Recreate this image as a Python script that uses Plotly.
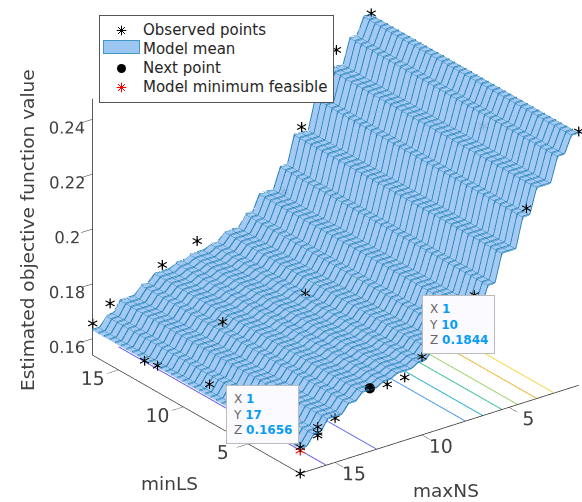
import plotly.graph_objects as go

# surface step heights: Estimated objective per maxNS 1..17
max_ns_levels = list(range(1, 18))
mean_by_max_ns = [.2459, .2398, .2308, .2217, .2109, .2008, .1933, .1875, .1835,
                  .1807, .1792, .1778, .1763, .1738, .1706, .1666, .1630]

# observed points
obs_max_ns = [1, 1, 3, 5, 6, 11, 13, 16, 17, 14, 17, 17, 17, 10, 2, 4, 7, 10, 11, 12, 15, 16, 16, 16, 17, 17]
obs_min_ls = [17, 1, 17, 17, 17, 17, 17, 17, 17, 11, 8, 12, 13, 10, 7, 1, 1, 1, 1, 1, 1, 1, 1, 1, 1, 1]
obs_value = [.2465, .2466, .2372, .2131, .1915, .1836, .1789, .1709, .1656, .1763, .1677, .1637, .1628,
             .1814, .2344, .2246, .1990, .1825, .1770, .1765, .1702, .1690, .1669, .1659, .1636, .1540]

next_point = dict(maxNS=[13], minLS=[1], value=[.1771])
model_min = dict(maxNS=[17], minLS=[1], value=[.1624])

contour_x = [15.5, 12.6, 7.5, 6.5, 5.4, 4.5, 3.4, 2.4]
contour_colors = ['#6a5ce8', '#6a6cf0', '#4f9bec', '#2fb5cf', '#45c3a0', '#9ed36f', '#e8b93a', '#f7d94a']

tips = [dict(x=17, y=1, z=.1636, X=1, Y=17, Z='0.1656', xa='right', xs=-1),
        dict(x=10, y=1, z=.1825, X=1, Y=10, Z='0.1844', xa='left', xs=0)]

z_range = [.154, .2475]
grid_x = [1 + .4 * i for i in range(41)]
grid_y = [1 + 16 / 37 * i for i in range(38)]
row = [mean_by_max_ns[int(round(v)) - 1] for v in grid_x]
grid_z = [row for _ in grid_y]

surf_c = '#9cc6f2'
line_c = '#2a86bd'
fig = go.Figure()
fig.add_trace(go.Surface(
    x=grid_x, y=grid_y, z=grid_z, showscale=False, opacity=.92,
    colorscale=[[0, surf_c], [1, surf_c]], hoverinfo='skip', showlegend=False,
    lighting=dict(ambient=1, diffuse=0, specular=0, fresnel=0),
    contours=dict(
        x=dict(show=True, start=1, end=17, size=.4, color=line_c, width=3),
        y=dict(show=True, start=1, end=17, size=16 / 37, color=line_c, width=3)),
))
# mesh edges across the risers, lifted a hair so that they stay on the visible side
bump = .0004
wx, wy, wz = [], [], []
for gy in grid_y:
    wx += grid_x + [None]
    wy += [gy] * len(grid_x) + [None]
    wz += [v + bump for v in row] + [None]
fig.add_trace(go.Scatter3d(x=wx, y=wy, z=wz, mode='lines', line=dict(color=line_c, width=2),
                           connectgaps=False, showlegend=False, hoverinfo='skip'))
for cx, cc in zip(contour_x, contour_colors):
    fig.add_trace(go.Scatter3d(x=[cx, cx], y=[1, 17], z=[z_range[0]] * 2, mode='lines',
                               line=dict(color=cc, width=2), showlegend=False, hoverinfo='skip'))
star = dict(size=22, family='DejaVu Sans')
fig.add_trace(go.Scatter3d(x=obs_max_ns, y=obs_min_ls, z=obs_value, mode='text',
                           text=['*'] * len(obs_value), textposition='middle center',
                           textfont=dict(color='black', **star), showlegend=False, hoverinfo='skip'))
fig.add_trace(go.Scatter3d(x=next_point['maxNS'], y=next_point['minLS'], z=next_point['value'], mode='markers',
                           marker=dict(color='black', size=6), showlegend=False, hoverinfo='skip'))
fig.add_trace(go.Scatter3d(x=model_min['maxNS'], y=model_min['minLS'], z=model_min['value'], mode='text',
                           text=['*'], textposition='middle center',
                           textfont=dict(color='red', **star), showlegend=False, hoverinfo='skip'))

# legend entries
legend_line = '#3f98c8'
def leg(s):
    return '<span style="font-size:15px">%s</span>' % s
fig.add_trace(go.Scatter(x=[None], y=[None], mode='markers', name=leg('Observed points'),
                         marker=dict(symbol='asterisk-open', color='black', size=8, line=dict(color='black', width=1))))
fig.add_trace(go.Scatter(x=[None], y=[None], mode='lines', name=leg('Model mean'), fill='toself',
                         fillcolor=surf_c, line=dict(color=legend_line, width=1)))
fig.add_trace(go.Scatter(x=[None], y=[None], mode='markers', name=leg('Next point'),
                         marker=dict(symbol='circle', color='black', size=9)))
fig.add_trace(go.Scatter(x=[None], y=[None], mode='markers', name=leg('Model minimum feasible'),
                         marker=dict(symbol='asterisk-open', color='red', size=8, line=dict(color='red', width=1))))

annots = []
for t in tips:
    lab = '<span style="color:#666">%s</span> <b style="color:#0a9cf5">%s</b>'
    txt = '<br>'.join(lab % (k, v) for k, v in (('X', t['X']), ('Y', t['Y']), ('Z', t['Z'])))
    annots.append(dict(x=t['x'], y=t['y'], z=t['z'], text=txt, showarrow=False, align='left',
                       xanchor=t['xa'], yanchor='bottom', xshift=t['xs'], yshift=3,
                       bgcolor='#fbfbff', bordercolor='#bbbbbb',
                       borderwidth=1, borderpad=6, font=dict(size=12, family='DejaVu Sans', color='#666')))

axis = dict(showbackground=False, showgrid=False, zeroline=False, showline=True, linecolor='#262626',
            linewidth=1.5, ticks='outside', ticklen=14, tickcolor='#262626', showspikes=False, tickangle=0,
            tickfont=dict(size=15, family='DejaVu Sans', color='#404040'))
title_font = dict(size=18.5, family='DejaVu Sans', color='#404040')
W, H = 582, 502
paper_ann = [
    dict(x=446 / W, y=1 - 490 / H, text='maxNS', textangle=0),
    dict(x=169 / W, y=1 - 483 / H, text='minLS', textangle=0),
    dict(x=27 / W, y=1 - 230 / H, text='Estimated objective function value', textangle=-90),
]
layout_ann = [dict(a, xref='paper', yref='paper', showarrow=False, xanchor='center', yanchor='middle', font=title_font)
              for a in paper_ann]
# Model-mean swatch drawn at the legend's proportions
layout_ann.append(dict(x=121.5 / W, y=1 - 47 / H, xref='paper', yref='paper', showarrow=False, text=' ',
                       xanchor='center', yanchor='middle',
                       width=35, height=12, bgcolor=surf_c, bordercolor=legend_line, borderwidth=1, borderpad=0))
S = 1.435 / 1.037
px = 346.8 / S
r = (.8017, -.5977, 0)
u = (.2539, .3406, .9053)
dx, dy = 44.5 / px, 9 / px
center = [-dx * r[i] - dy * u[i] for i in range(3)]
eye0 = (-.541 * 1.6, -.726 * 1.6, .425 * 1.6)
pad = '\u00a0\u00a0\u00a0'
fig.update_layout(
    width=W, height=H, margin=dict(l=0, r=0, t=0, b=0), paper_bgcolor='white', plot_bgcolor='white',
    showlegend=True, annotations=layout_ann,
    xaxis=dict(visible=False), yaxis=dict(visible=False),
    legend=dict(x=99 / W, y=1 - 15 / H, xanchor='left', yanchor='top', bgcolor='white',
                bordercolor='#555555', borderwidth=1, itemwidth=33, tracegroupgap=0,
                font=dict(size=12, family='DejaVu Sans', color='#262626')),
    scene=dict(
        domain=dict(x=[0, 1], y=[0, 1]),
        aspectmode='manual', aspectratio=dict(x=S, y=S, z=.8155 * S),
        camera=dict(projection=dict(type='orthographic'),
                    up=dict(x=0, y=0, z=1),
                    center=dict(x=center[0], y=center[1], z=center[2]),
                    eye=dict(x=eye0[0] + center[0], y=eye0[1] + center[1], z=eye0[2] + center[2])),
        xaxis=dict(axis, title=dict(text=''), range=[17, 1], tickvals=[5, 10, 15]),
        yaxis=dict(axis, title=dict(text=''), range=[1, 17], tickvals=[5, 10, 15]),
        zaxis=dict(axis, title=dict(text=''), ticklen=9, tickfont=dict(size=14, family='DejaVu Sans', color='#404040'),
                   range=z_range, tickvals=[.16, .18, .2, .22, .24],
                   ticktext=[s + pad for s in ['0.16', '0.18', '0.2', '0.22', '0.24']]),
        annotations=annots,
    ),
)
fig.write_html("out.html", post_script="document.body.style.margin='0';", config=dict(displayModeBar=False))
